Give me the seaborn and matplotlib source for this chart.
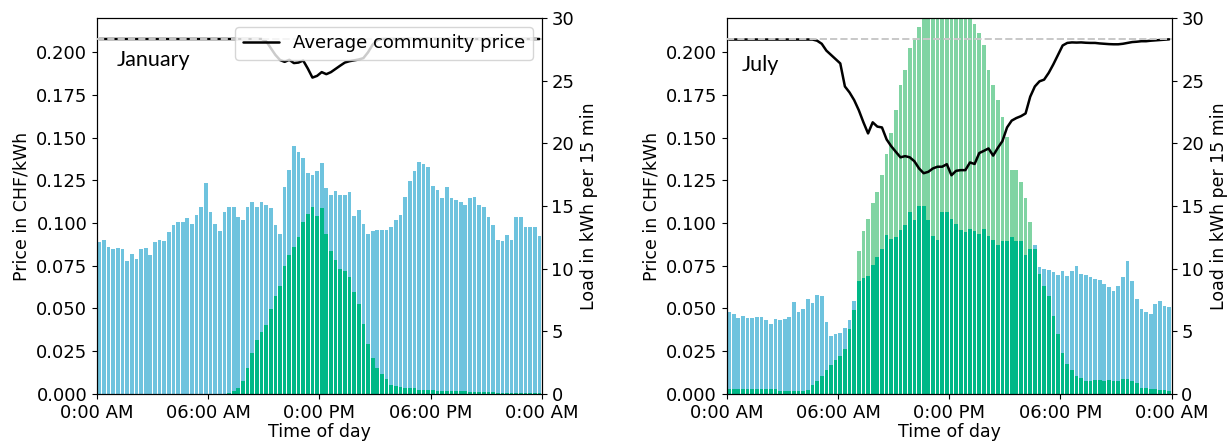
import numpy as np
import pandas as pd
import matplotlib
matplotlib.use('Agg')
import matplotlib.pyplot as plt
import seaborn as sns

# ── Data (96 quarter-hour slots per day) ─────────────────────────────────────
TIME_TICKS = ["0:00 AM", "06:00 AM", "0:00 PM", "06:00 PM", "0:00 AM"]
GRID_PRICE = 0.2078

jan_load = [
    12.1, 12.3, 11.7, 11.6, 11.65, 11.6, 10.6, 11.2, 10.8, 11.6, 11.65, 11.1,
    12.1, 12.3, 12.2, 12.95, 13.5, 13.75, 13.75, 14.05, 13.6, 14.3, 14.95, 16.8,
    14.5, 13.6, 13.0, 14.5, 14.9, 14.95, 14.15, 13.9, 14.95, 15.3, 14.9, 15.35,
    15.1, 14.8, 13.5, 12.8, 16.5, 17.85, 19.8, 19.3, 18.8, 17.6, 17.5, 17.8,
    18.45, 16.4, 15.9, 16.2, 15.9, 15.9, 16.1, 14.2, 14.7, 13.6, 12.8, 13.0,
    13.1, 13.1, 13.1, 13.3, 13.9, 14.3, 15.7, 17.0, 17.8, 18.5, 18.35, 18.1,
    16.6, 16.3, 15.6, 16.5, 15.6, 15.5, 15.35, 15.1, 15.6, 15.7, 15.1, 14.95,
    14.15, 13.5, 12.3, 12.2, 12.7, 12.3, 14.15, 14.15, 13.3, 13.3, 13.35, 12.6,
]
jan_pv = [
    0.0, 0.0, 0.0, 0.0, 0.0, 0.0, 0.0, 0.0, 0.0, 0.0, 0.0, 0.0,
    0.0, 0.0, 0.0, 0.0, 0.0, 0.0, 0.0, 0.0, 0.0, 0.0, 0.0, 0.0,
    0.0, 0.0, 0.0, 0.0, 0.05, 0.2, 0.45, 1.06, 2.1, 3.3, 4.3, 4.9,
    5.5, 6.8, 7.8, 8.6, 10.2, 11.1, 11.75, 12.55, 13.75, 14.4, 14.95, 14.2,
    14.8, 12.8, 11.4, 10.7, 10.0, 9.8, 9.3, 8.1, 7.2, 5.6, 4.0, 2.85,
    2.1, 1.6, 1.17, 0.72, 0.6, 0.53, 0.45, 0.5, 0.43, 0.32, 0.3, 0.3,
    0.28, 0.25, 0.25, 0.25, 0.22, 0.22, 0.22, 0.2, 0.18, 0.18, 0.15, 0.15,
    0.12, 0.12, 0.1, 0.1, 0.1, 0.08, 0.08, 0.05, 0.05, 0.05, 0.03, 0.03,
]
jan_price = [
    0.2078, 0.2078, 0.2078, 0.2078, 0.2078, 0.2078, 0.2078, 0.2078, 0.2078, 0.2078, 0.2078, 0.2078,
    0.2078, 0.2078, 0.2078, 0.2078, 0.2078, 0.2078, 0.2078, 0.2078, 0.2078, 0.2078, 0.2078, 0.2078,
    0.2078, 0.2078, 0.2078, 0.2078, 0.2078, 0.2078, 0.2078, 0.2078, 0.2078, 0.2078, 0.2078, 0.2078,
    0.2065, 0.2025, 0.1985, 0.1955, 0.1944, 0.1956, 0.1937, 0.1940, 0.1952, 0.1905, 0.1852, 0.1862,
    0.1884, 0.1872, 0.1884, 0.1903, 0.1922, 0.1940, 0.1948, 0.1953, 0.1958, 0.1966, 0.2000, 0.2045,
    0.2072, 0.2078, 0.2078, 0.2078, 0.2078, 0.2078, 0.2078, 0.2078, 0.2078, 0.2078, 0.2078, 0.2078,
    0.2078, 0.2078, 0.2078, 0.2078, 0.2078, 0.2078, 0.2078, 0.2078, 0.2078, 0.2078, 0.2078, 0.2078,
    0.2078, 0.2078, 0.2078, 0.2078, 0.2078, 0.2078, 0.2078, 0.2078, 0.2078, 0.2078, 0.2078, 0.2078,
]

jul_load = [
    6.54, 6.38, 6.09, 6.25, 6.09, 6.09, 6.17, 6.17, 5.9, 5.61, 5.98, 5.93,
    5.98, 6.17, 7.34, 6.57, 6.78, 7.6, 7.29, 7.87, 7.79, 5.77, 4.6, 4.79,
    4.84, 5.24, 5.88, 7.45, 9.0, 9.28, 9.4, 10.3, 10.9, 11.6, 12.7, 12.4,
    12.55, 13.1, 13.5, 14.5, 13.9, 15.0, 15.0, 13.9, 12.6, 12.3, 14.5, 14.5,
    14.0, 13.6, 13.1, 12.95, 13.2, 13.0, 12.8, 13.2, 12.6, 12.3, 11.9, 12.2,
    12.2, 12.5, 12.2, 12.2, 11.1, 11.6, 11.9, 10.1, 10.0, 9.9, 9.7, 9.5,
    9.8, 9.4, 9.8, 10.2, 9.6, 9.5, 9.3, 9.2, 9.1, 8.8, 8.5, 8.2,
    8.6, 9.3, 10.6, 9.0, 7.6, 6.75, 6.5, 6.4, 7.15, 7.45, 7.05, 6.97,
]
jul_pv = [
    0.4, 0.4, 0.4, 0.4, 0.4, 0.4, 0.4, 0.4, 0.4, 0.4, 0.4, 0.25,
    0.25, 0.25, 0.25, 0.25, 0.25, 0.3, 0.7, 1.06, 1.46, 1.9, 2.3, 2.7,
    3.0, 3.6, 5.2, 6.7, 11.4, 13.0, 13.96, 15.2, 16.1, 17.5, 19.15, 20.8,
    22.7, 24.7, 25.9, 27.6, 28.4, 29.3, 31.0, 32.0, 33.0, 34.0, 34.5, 35.0,
    34.5, 34.0, 33.0, 32.0, 31.0, 29.5, 28.8, 27.85, 25.9, 24.7, 23.5, 22.1,
    20.5, 17.9, 17.9, 16.9, 15.6, 13.7, 11.6, 9.6, 8.6, 7.8, 6.2, 4.8,
    3.3, 2.4, 1.9, 1.4, 1.25, 1.06, 1.06, 1.1, 1.1, 1.06, 1.1, 1.06,
    1.06, 1.15, 1.15, 1.06, 0.9, 0.5, 0.45, 0.4, 0.4, 0.3, 0.27, 0.2,
]
jul_price = [
    0.2075, 0.2075, 0.2075, 0.2075, 0.2075, 0.2075, 0.2075, 0.2075, 0.2075, 0.2075, 0.2075, 0.2075,
    0.2075, 0.2075, 0.2075, 0.2075, 0.2075, 0.2075, 0.2075, 0.2068, 0.2050, 0.2010, 0.1985, 0.1960,
    0.1935, 0.1800, 0.1765, 0.1720, 0.1661, 0.1590, 0.1525, 0.1590, 0.1565, 0.1560, 0.1490, 0.1450,
    0.1417, 0.1385, 0.1392, 0.1385, 0.1362, 0.1320, 0.1292, 0.1300, 0.1320, 0.1330, 0.1330, 0.1345,
    0.1280, 0.1306, 0.1310, 0.1310, 0.1355, 0.1346, 0.1410, 0.1423, 0.1437, 0.1395, 0.1440, 0.1480,
    0.1560, 0.1600, 0.1615, 0.1626, 0.1642, 0.1740, 0.1800, 0.1830, 0.1840, 0.1880, 0.1930, 0.1985,
    0.2040, 0.2055, 0.2058, 0.2057, 0.2058, 0.2056, 0.2055, 0.2055, 0.2052, 0.2050, 0.2048, 0.2047,
    0.2047, 0.2050, 0.2055, 0.2060, 0.2062, 0.2065, 0.2065, 0.2068, 0.2070, 0.2072, 0.2074, 0.2076,
]

BLUE        = '#6ec3de'
GREEN_LIGHT = '#80d4a3'
GREEN_DARK  = '#00b887'

sns.set_theme(style='ticks', rc={
    'axes.edgecolor': 'black', 'axes.linewidth': 0.8,
    'xtick.color': 'black', 'ytick.color': 'black',
    'xtick.major.size': 3.5, 'ytick.major.size': 3.5,
    'xtick.major.width': 0.8, 'ytick.major.width': 0.8,
    'text.color': 'black', 'axes.labelcolor': 'black',
})
plt.rcParams['font.family'] = ['DejaVu Sans']

fig, axes = plt.subplots(1, 2, figsize=(12.28, 4.43), dpi=100)
fig.subplots_adjust(left=0.079, right=0.954, bottom=0.111, top=0.959, wspace=0.416)


def draw_panel(ax, load, pv, price, month, month_xy, with_legend):
    df = pd.DataFrame({'slot': np.arange(len(load)), 'load': load,
                       'pv': pv, 'price': price})
    df['self'] = np.minimum(df['load'], df['pv'])

    ax2 = ax.twinx()
    for col, c in [('pv', GREEN_LIGHT), ('load', BLUE), ('self', GREEN_DARK)]:
        sns.barplot(data=df, x='slot', y=col, color=c, saturation=1,
                    width=0.8, linewidth=0, ax=ax2)
    ax2.set_ylim(0, 30)
    ax2.set_yticks(range(0, 31, 5))
    ax2.set_ylabel("Load in kWh per 15 min", fontsize=12.5)
    ax2.tick_params(axis='y', labelsize=13)

    # price line on top of the bars
    ax.set_zorder(ax2.get_zorder() + 1)
    ax.patch.set_visible(False)
    sns.lineplot(data=df, x='slot', y='price', color='black', linewidth=1.8,
                 ax=ax, label='Average community price' if with_legend else None,
                 legend=with_legend)
    ax.axhline(GRID_PRICE, color='#c8c8c8', linestyle='--', linewidth=1.4, zorder=3)

    ax.set_xlim(-0.5, len(load) - 0.5)
    ax.set_xticks([-0.5, 23.5, 47.5, 71.5, 95.5], TIME_TICKS)
    ax.set_ylim(0, 0.22)
    ax.set_yticks(np.arange(0, 0.2001, 0.025))
    ax.set_yticklabels([f'{v:.3f}' for v in np.arange(0, 0.2001, 0.025)])
    ax.tick_params(labelsize=13)
    ax.set_xlabel("Time of day", fontsize=12.5, labelpad=1)
    ax.set_ylabel("Price in CHF/kWh", fontsize=12.5)
    for s in ax.spines.values():
        s.set_visible(True)

    ax.text(month_xy[0], month_xy[1], month, transform=ax.transAxes,
            fontsize=15.5, family=['Lato', 'DejaVu Sans'], va='center')

    if with_legend:
        ax.legend(loc='upper right', fontsize=13, frameon=True, framealpha=0.8,
                  edgecolor='0.8', fancybox=True)


draw_panel(axes[0], jan_load, jan_pv, jan_price, 'January', (0.045, 0.888), True)
draw_panel(axes[1], jul_load, jul_pv, jul_price, 'July', (0.034, 0.875), False)

fig.savefig('out.png', dpi=100)
